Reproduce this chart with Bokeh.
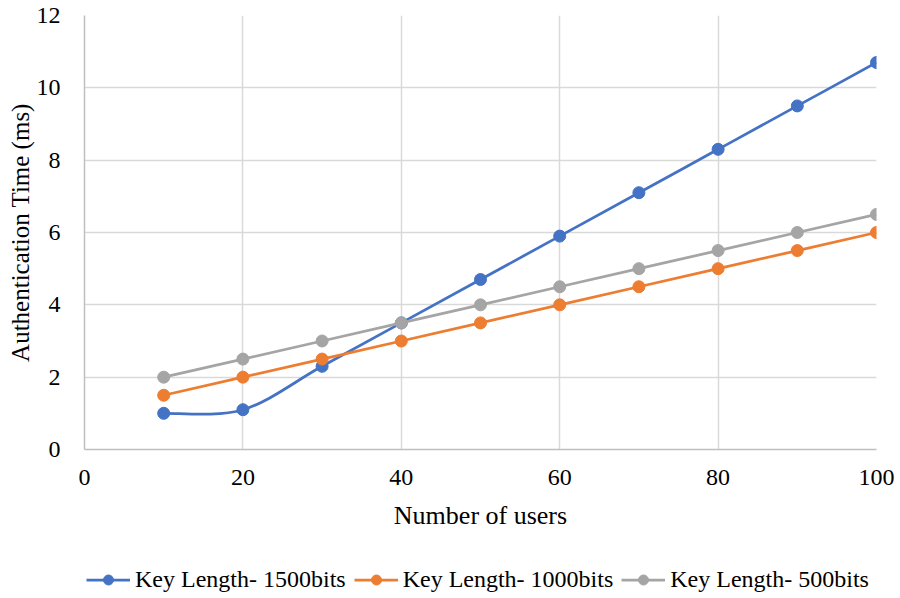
from bokeh.plotting import figure
from bokeh.layouts import column
from bokeh.models import Range1d, FixedTicker, Legend, LegendItem
from bokeh.embed import file_html
from bokeh.resources import INLINE

users = [10, 20, 30, 40, 50, 60, 70, 80, 90, 100]
key1500 = [1.0, 1.1, 2.3, 3.5, 4.7, 5.9, 7.1, 8.3, 9.5, 10.7]
key1000 = [1.5, 2.0, 2.5, 3.0, 3.5, 4.0, 4.5, 5.0, 5.5, 6.0]
key500 = [2.0, 2.5, 3.0, 3.5, 4.0, 4.5, 5.0, 5.5, 6.0, 6.5]
series_names = ["Key Length- 1500bits", "Key Length- 1000bits", "Key Length- 500bits"]
x_ticks = [0, 20, 40, 60, 80, 100]
y_ticks = [0, 2, 4, 6, 8, 10, 12]

BLUE = "#4472C4"
ORANGE = "#ED7D31"
GRAY = "#A5A5A5"
COLORS = [BLUE, ORANGE, GRAY]
FONT = "Liberation Serif"
LW = 2.75
MS = 12


def smooth_segments(xs, ys):
    """Catmull-Rom style bezier control points (Excel 'smoothed line')."""
    n = len(xs)
    seg = dict(x0=[], y0=[], x1=[], y1=[], cx0=[], cy0=[], cx1=[], cy1=[])
    for i in range(n - 1):
        pm = (xs[max(i - 1, 0)], ys[max(i - 1, 0)])
        p0 = (xs[i], ys[i])
        p1 = (xs[i + 1], ys[i + 1])
        p2 = (xs[min(i + 2, n - 1)], ys[min(i + 2, n - 1)])
        seg["x0"].append(p0[0]); seg["y0"].append(p0[1])
        seg["x1"].append(p1[0]); seg["y1"].append(p1[1])
        seg["cx0"].append(p0[0] + (p1[0] - pm[0]) / 6)
        seg["cy0"].append(p0[1] + (p1[1] - pm[1]) / 6)
        seg["cx1"].append(p1[0] - (p2[0] - p0[0]) / 6)
        seg["cy1"].append(p1[1] - (p2[1] - p0[1]) / 6)
    return seg


p = figure(width=900, height=548, output_backend="svg", toolbar_location=None,
           x_range=Range1d(0, 100), y_range=Range1d(0, 12),
           min_border_left=84, min_border_right=24, min_border_top=15, min_border_bottom=99)
p.outline_line_color = None
p.background_fill_color = "white"
p.border_fill_color = "white"

for ax in (p.xaxis[0], p.yaxis[0]):
    ax.major_tick_line_color = None
    ax.minor_tick_line_color = None
    ax.axis_line_color = "#BFBFBF"
    ax.axis_line_width = 1.5
    ax.major_label_text_font = FONT
    ax.major_label_text_font_size = "24px"
    ax.major_label_text_color = "black"
    ax.axis_label_text_font = FONT
    ax.axis_label_text_font_size = "26px"
    ax.axis_label_text_font_style = "normal"
    ax.axis_label_text_color = "black"

p.yaxis.axis_label_text_font_size = "25px"
p.xaxis.ticker = FixedTicker(ticks=x_ticks)
p.yaxis.ticker = FixedTicker(ticks=y_ticks)
p.xaxis.axis_label = "Number of users"
p.yaxis.axis_label = "Authentication Time (ms)"
p.xaxis.major_label_standoff = 14
p.xaxis.axis_label_standoff = 13
p.yaxis.major_label_standoff = 18
p.yaxis.axis_label_standoff = 0

for g in (p.xgrid[0], p.ygrid[0]):
    g.grid_line_color = "#D9D9D9"
    g.grid_line_width = 1.5

# Series 1 (smoothed line, as in the source)
seg = smooth_segments(users, key1500)
p.bezier(line_color=BLUE, line_width=LW, **seg)
p.scatter(users, key1500, size=MS, fill_color=BLUE, line_color=BLUE)

p.line(users, key1000, line_color=ORANGE, line_width=LW)
p.scatter(users, key1000, size=MS, fill_color=ORANGE, line_color=ORANGE)

p.line(users, key500, line_color=GRAY, line_width=LW)
p.scatter(users, key500, size=MS, fill_color=GRAY, line_color=GRAY)

# Legend strip below the chart
nan = float("nan")
lg = figure(width=900, height=50, output_backend="svg", toolbar_location=None,
            x_range=Range1d(0, 1), y_range=Range1d(0, 1),
            min_border=0, x_axis_location=None, y_axis_location=None)
lg.outline_line_color = None
lg.xgrid.visible = False
lg.ygrid.visible = False
items = []
for name, c in zip(series_names, COLORS):
    lr = lg.line(x=[nan], y=[nan], line_color=c, line_width=LW)
    sr = lg.scatter(x=[nan], y=[nan], size=MS, fill_color=c, line_color=c)
    items.append(LegendItem(label=name, renderers=[lr, sr]))

legend = Legend(items=items, orientation="horizontal", location=(2, 5),
                glyph_width=44, glyph_height=25, label_height=25, label_standoff=5,
                spacing=8, padding=0, margin=0,
                label_text_font=FONT, label_text_font_size="24px", label_text_color="black",
                border_line_color=None, background_fill_alpha=0)
lg.add_layout(legend, "center")

layout = column(p, lg, spacing=0)
open("out.html", "w").write(file_html(layout, INLINE))
